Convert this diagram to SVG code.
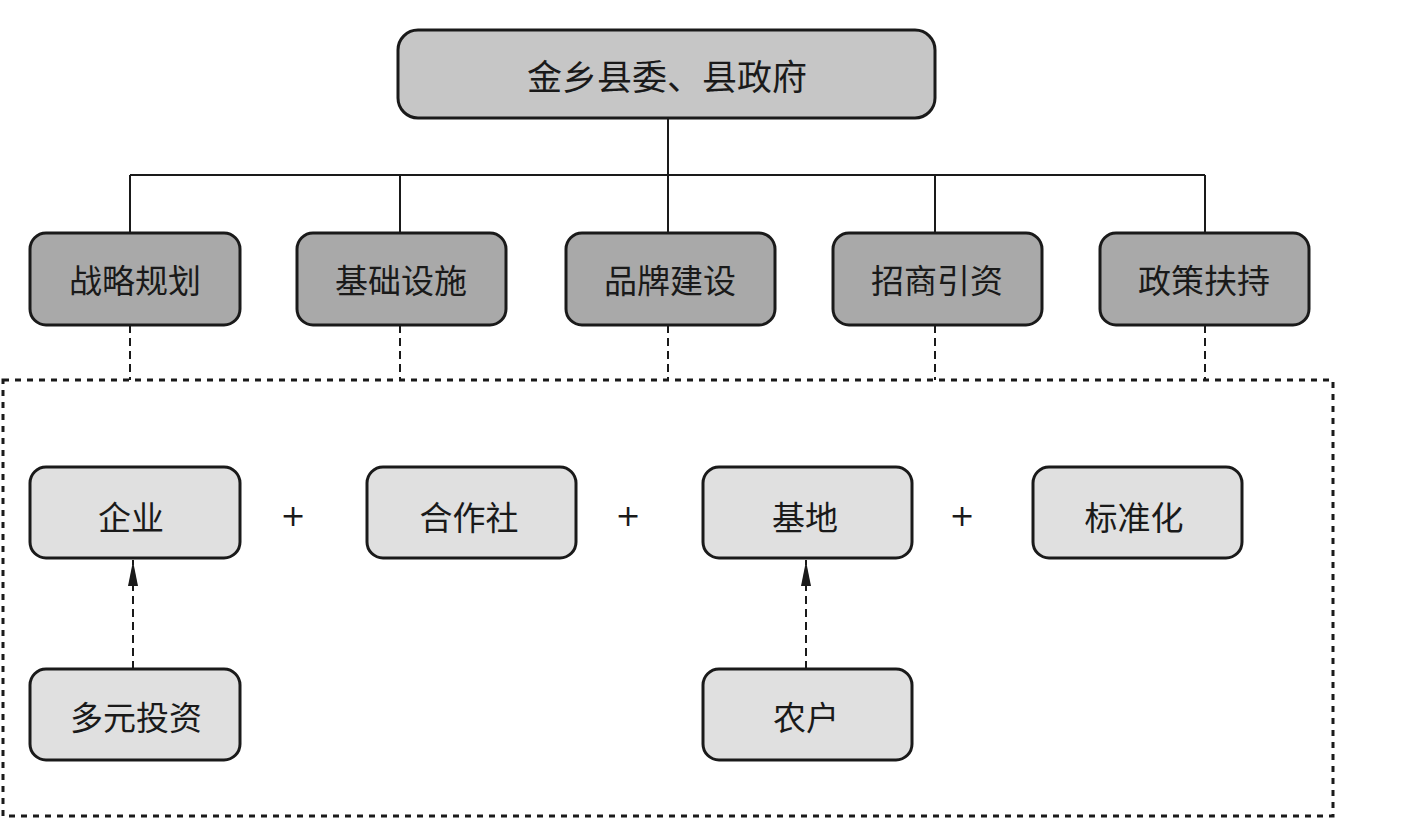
<svg xmlns="http://www.w3.org/2000/svg" width="1419" height="818" viewBox="0 0 1419 818">
<style>
.box{stroke:#1a1a1a;stroke-width:3}
.top{fill:#c6c6c6}
.mid{fill:#a9a9a9}
.low{fill:#e0e0e0}
text{font-family:"Noto Sans CJK SC","Noto Sans CJK JP",sans-serif;font-size:33px;fill:#1a1a1a;text-anchor:middle;dominant-baseline:central}
.plus{font-family:"DejaVu Sans",sans-serif;font-size:30px}
.solid{stroke:#1a1a1a;stroke-width:2;fill:none}
.dash{stroke:#1a1a1a;stroke-width:2;fill:none;stroke-dasharray:8 5}
.frame{stroke:#1a1a1a;stroke-width:3;fill:none;stroke-dasharray:6 6}
</style>
<rect width="1419" height="818" fill="#ffffff"/>
<g id="connectors">
<path class="solid" d="M668,118 V175 M130,175 H1205 M130,175 V233 M400,175 V233 M668,175 V233 M935,175 V233 M1205,175 V233"/>
<path class="dash" d="M130,325 V380 M400,325 V380 M668,325 V380 M935,325 V380 M1205,325 V380"/>
<rect class="frame" x="3" y="380" width="1330" height="436"/>
<line class="dash" x1="133" y1="669" x2="133" y2="560"/>
<path d="M128,586 L133,561 L138,586 Z" fill="#1a1a1a"/>
<line class="dash" x1="806" y1="669" x2="806" y2="560"/>
<path d="M801,586 L806,561 L811,586 Z" fill="#1a1a1a"/>
</g>
<g id="n-top"><rect class="box top" x="398" y="30" width="537" height="88" rx="20"/><text x="667" y="74" style="font-size:35px">金乡县委、县政府</text></g>
<g id="n-zlgh"><rect class="box mid" x="30" y="233" width="210" height="92" rx="16"/><text x="135" y="279">战略规划</text></g>
<g id="n-jcss"><rect class="box mid" x="297" y="233" width="209" height="92" rx="16"/><text x="401" y="279">基础设施</text></g>
<g id="n-ppjs"><rect class="box mid" x="566" y="233" width="209" height="92" rx="16"/><text x="670" y="279">品牌建设</text></g>
<g id="n-zsyz"><rect class="box mid" x="833" y="233" width="209" height="92" rx="16"/><text x="937" y="279">招商引资</text></g>
<g id="n-zcfc"><rect class="box mid" x="1100" y="233" width="209" height="92" rx="16"/><text x="1204" y="279">政策扶持</text></g>
<g id="n-qy"><rect class="box low" x="30" y="467" width="210" height="91" rx="16"/><text x="131" y="516">企业</text></g>
<g id="n-hzs"><rect class="box low" x="367" y="467" width="209" height="91" rx="16"/><text x="469" y="516">合作社</text></g>
<g id="n-jd"><rect class="box low" x="703" y="467" width="209" height="91" rx="16"/><text x="805" y="516">基地</text></g>
<g id="n-bzh"><rect class="box low" x="1033" y="467" width="209" height="91" rx="16"/><text x="1134" y="516">标准化</text></g>
<g id="n-dytz"><rect class="box low" x="30" y="669" width="210" height="91" rx="16"/><text x="136" y="716">多元投资</text></g>
<g id="n-nh"><rect class="box low" x="703" y="669" width="209" height="91" rx="16"/><text x="806" y="716">农户</text></g>
<g id="plus">
<text class="plus" x="293" y="515">+</text>
<text class="plus" x="628" y="515">+</text>
<text class="plus" x="962" y="515">+</text>
</g>
</svg>
